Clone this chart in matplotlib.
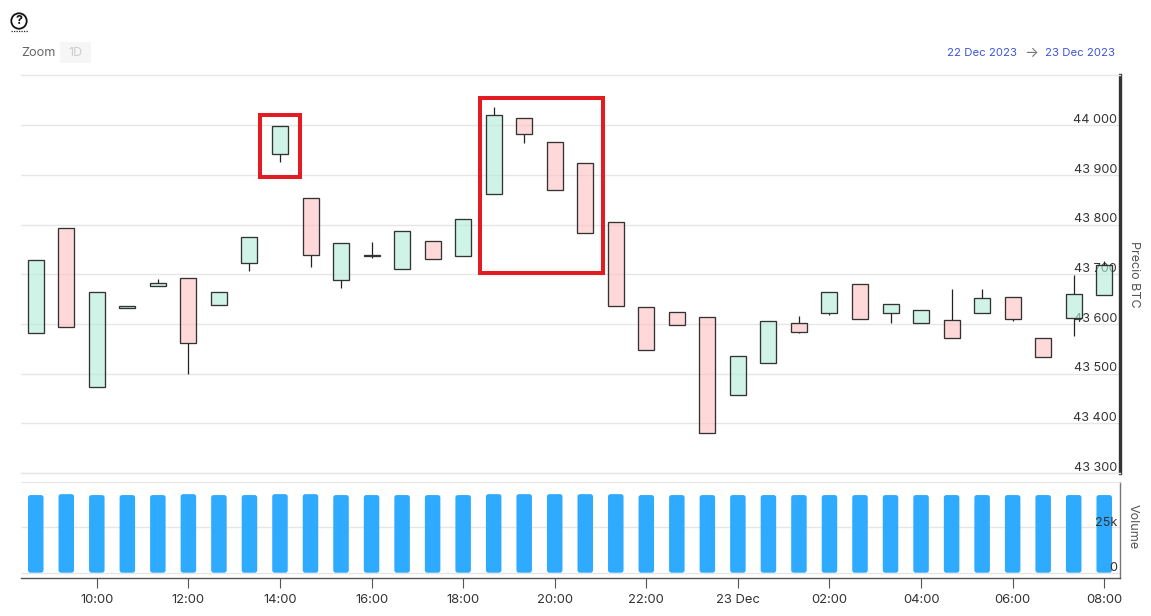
import matplotlib
matplotlib.use("Agg")
import matplotlib.pyplot as plt
import matplotlib.dates as mdates
import pandas as pd
from matplotlib.patches import Rectangle, Circle, FancyBboxPatch
from matplotlib.transforms import ScaledTranslation, Affine2D

plt.rcParams['font.family'] = ['Inter', 'DejaVu Sans']

W, H = 1151, 616

times = pd.date_range("2023-12-22 08:40", periods=36, freq="40min")
opens = [43581, 43793, 43473, 43632, 43677, 43693, 43638, 43724, 43943, 43854, 43689, 43737,
         43711, 43768, 43737, 43862, 44015, 43967, 43924, 43806, 43634, 43624, 43615, 43457,
         43522, 43602, 43622, 43681, 43622, 43602, 43609, 43622, 43654, 43571, 43613, 43659]
closes = [43729, 43594, 43665, 43637, 43682, 43562, 43664, 43775, 43999, 43739, 43764, 43739,
          43787, 43731, 43811, 44021, 43983, 43870, 43783, 43636, 43548, 43598, 43380, 43536,
          43606, 43584, 43665, 43611, 43640, 43628, 43571, 43653, 43610, 43534, 43660, 43719]
highs = [43729, 43793, 43665, 43637, 43691, 43693, 43664, 43775, 43999, 43854, 43764, 43765,
         43787, 43768, 43811, 44037, 44015, 43967, 43924, 43806, 43634, 43624, 43615, 43536,
         43606, 43616, 43665, 43681, 43640, 43628, 43671, 43671, 43654, 43571, 43699, 43727]
lows = [43581, 43594, 43473, 43632, 43677, 43499, 43638, 43707, 43926, 43715, 43673, 43733,
        43711, 43731, 43737, 43862, 43965, 43870, 43783, 43636, 43548, 43598, 43380, 43457,
        43522, 43582, 43618, 43611, 43602, 43602, 43571, 43622, 43606, 43534, 43576, 43659]
volumes = [42800, 43300, 42800, 42800, 42800, 43300, 42800, 42800, 43300, 43300, 42800, 42800,
           42800, 42800, 42800, 43300, 43300, 43300, 43300, 43300, 42800, 42800, 42800, 42800,
           42800, 42800, 42800, 42800, 42800, 42800, 42800, 42800, 42800, 42800, 42800, 42800]

price_ticks = [43300, 43400, 43500, 43600, 43700, 43800, 43900, 44000]
price_labels = ["43 300", "43 400", "43 500", "43 600", "43 700", "43 800", "43 900", "44 000"]
volume_ticks = [0, 25000]
volume_labels = ["0", "25k"]
time_ticks = pd.date_range("2023-12-22 10:00", "2023-12-23 08:00", freq="2h")
time_labels = ["10:00", "12:00", "14:00", "16:00", "18:00", "20:00", "22:00", "23 Dec",
               "02:00", "04:00", "06:00", "08:00"]

GREEN, RED = (0.70, 0.93, 0.85, 0.62), (1.0, 0.76, 0.76, 0.62)
GRID, TXT = "#e6e6e6", "#333333"


def axes_px(l, t, r, b):
    return [l / W, 1 - b / H, (r - l) / W, (b - t) / H]


fig = plt.figure(figsize=(W / 100, H / 100), dpi=100, facecolor="white")
ax = fig.add_axes(axes_px(21, 74.5, 1120, 473))
vax = fig.add_axes(axes_px(21, 482, 1120, 578))

xl = [mdates.date2num(pd.Timestamp("2023-12-22 08:20:40")),
      mdates.date2num(pd.Timestamp("2023-12-23 08:20:40"))]
x = mdates.date2num(times)
px_per_day = 1099 / (xl[1] - xl[0])
cw = 16 / px_per_day
vw = 15.5 / px_per_day

for a in (ax, vax):
    a.set_xlim(*xl)
    a.grid(False)

ax.set_axisbelow(True)
ax.grid(axis="y", color=GRID, lw=1)
ax.set_ylim(43300, 44102.7)
ax.set_yticks(price_ticks, price_labels)

vol_ylim = (-2921, 50000)
vax.set_ylim(*vol_ylim)
vax.set_yticks(volume_ticks, volume_labels)
vax.set_axisbelow(False)  # 25k and 0 are printed over the bars
vax.hlines(volume_ticks, *xl, color=GRID, lw=1, zorder=1)

body_low = [min(o, c) for o, c in zip(opens, closes)]
body_high = [max(o, c) for o, c in zip(opens, closes)]
ax.vlines(x, lows, body_low, color="#222222", lw=0.9, zorder=2)
ax.vlines(x, body_high, highs, color="#222222", lw=0.9, zorder=2)
for xi, o, c in zip(x, opens, closes):
    ax.add_patch(Rectangle((xi - cw / 2, min(o, c)), cw, abs(c - o),
                           facecolor=GREEN if c >= o else RED,
                           edgecolor="#333333", lw=0.95, zorder=3))

# rounded volume bars: equal corner radius in pixels on both data scales
vol_per_px = (vol_ylim[1] - vol_ylim[0]) / 96
days_per_px = 1 / px_per_day
for xi, v in zip(x, volumes):
    vax.add_patch(FancyBboxPatch((xi - vw / 2, 0), vw, v,
                                 boxstyle=f"round,pad=0,rounding_size={2.5 * days_per_px}",
                                 mutation_aspect=vol_per_px / days_per_px,
                                 fc="#2eaaff", ec="none", zorder=2))

ax.set_xticks([])
for s in ("top", "bottom"):
    ax.spines[s].set_color(GRID)
    ax.spines[s].set_linewidth(1)
ax.spines["left"].set_visible(False)
ax.spines["right"].set_color("#333333")
ax.spines["right"].set_linewidth(2.4)

vax.spines["left"].set_visible(False)
vax.spines["top"].set_color(GRID)
vax.spines["right"].set_color("#777777")
vax.spines["right"].set_linewidth(1)
vax.spines["bottom"].set_color("#555555")
vax.spines["bottom"].set_linewidth(1)
vax.set_xticks(mdates.date2num(time_ticks), time_labels)
vax.tick_params(axis="x", length=7, width=0.8, color="#555555", labelsize=9.4,
                labelcolor=TXT, pad=4.3)

for a, dy in ((ax, 5.0), (vax, 4.3)):
    a.tick_params(axis="y", left=False, right=False, labelleft=False, labelright=True,
                  length=0, pad=-2.2, labelsize=9.1, labelcolor=TXT)
    for lab in a.get_yticklabels():
        lab.set_ha("right")
        lab.set_transform(lab.get_transform() + ScaledTranslation(0, dy / 72, fig.dpi_scale_trans))

px = Affine2D().scale(1, -1).translate(0, H)


def add_text(xp, yp, s, **kw):
    fig.text(xp / W, 1 - yp / H, s, **kw)


fig.add_artist(Circle((19, 21), 7.7, transform=px, fc="white", ec="#111111", lw=1.3))
add_text(19, 21, "?", ha="center", va="center", fontsize=9, fontweight="bold", color="#111111")
fig.add_artist(plt.Line2D([11, 28], [31, 31], transform=px, color="#222222", lw=0.9, ls=(0, (1, 1))))

add_text(21, 53, "Zoom", ha="left", va="center", fontsize=9.2, color="#666666")
fig.add_artist(Rectangle((60, 42), 31, 21, transform=px, fc="#f6f6f6", ec="none"))
add_text(75.5, 53, "1D", ha="center", va="center", fontsize=9, color="#cccccc")

add_text(947, 52.5, "22 Dec 2023", ha="left", va="center", fontsize=8.2, color="#3f55d6")
add_text(1031, 53, "→", ha="center", va="center", fontsize=10.5, color="#777777")
add_text(1115, 52.5, "23 Dec 2023", ha="right", va="center", fontsize=8.2, color="#3f55d6")

add_text(1134, 274, "Precio BTC", rotation=-90, ha="center", va="center", fontsize=9, color="#555555")
add_text(1133, 527, "Volume", rotation=-90, ha="center", va="center", fontsize=9, color="#555555")

for l, t, r, b in ((260, 114.5, 300, 177), (480, 98, 603, 273)):
    fig.add_artist(Rectangle((l, t), r - l, b - t, transform=px, fc="none",
                             ec="#e31b23", lw=2.9, joinstyle="miter"))

fig.savefig("out.png", dpi=100)
